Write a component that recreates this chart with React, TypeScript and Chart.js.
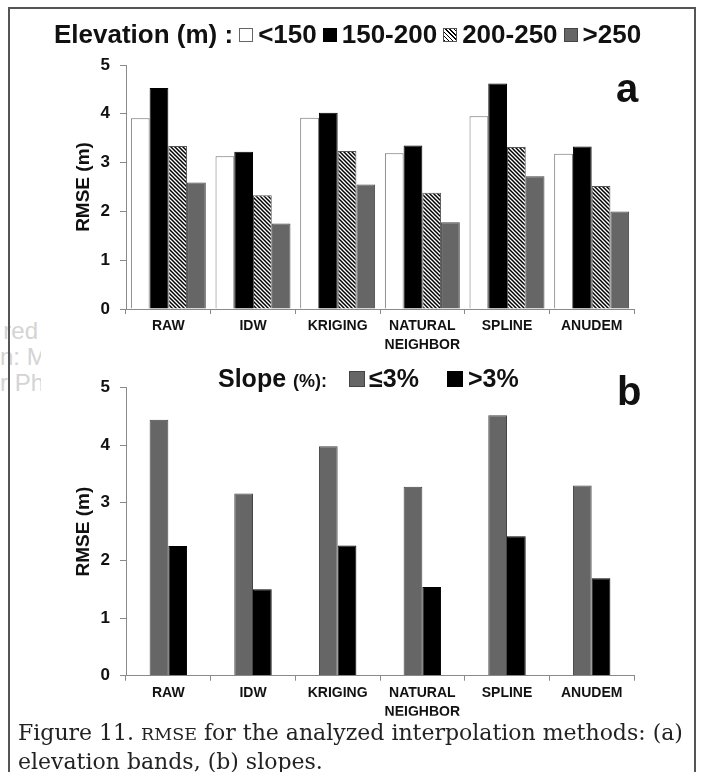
import React, { useEffect, useRef } from "react";
import { Chart, registerables } from "chart.js";

Chart.register(...registerables);

// ---------- data ----------
const methods: string[][] = [["RAW"], ["IDW"], ["KRIGING"], ["NATURAL", "NEIGHBOR"], ["SPLINE"], ["ANUDEM"]];
const elevationBands = ["<150", "150-200", "200-250", ">250"];
const elevLt150 = [3.91, 3.13, 3.92, 3.19, 3.95, 3.18];
const elev150to200 = [4.53, 3.22, 4.02, 3.35, 4.62, 3.33];
const elev200to250 = [3.34, 2.33, 3.24, 2.38, 3.32, 2.52];
const elevGt250 = [2.59, 1.75, 2.55, 1.78, 2.72, 2.0];
const slopeBands = ["≤3%", ">3%"];
const slopeLe3 = [4.44, 3.16, 3.98, 3.28, 4.52, 3.3];
const slopeGt3 = [2.25, 1.5, 2.26, 1.54, 2.42, 1.69];
const yMin = 0;
const yMax = 5;
const yStep = 1;
const yTitle = "RMSE (m)";

const SANS = "'Liberation Sans', Arial, Helvetica, sans-serif";
const AXIS = "#8a8a8a";
const GRAY = "#666666";

function makeHatch(): CanvasPattern | string {
  const c = document.createElement("canvas");
  c.width = 4;
  c.height = 4;
  const ctx = c.getContext("2d");
  if (!ctx) return "#999";
  ctx.fillStyle = "#fff";
  ctx.fillRect(0, 0, 4, 4);
  ctx.strokeStyle = "#000";
  ctx.lineWidth = 1.5;
  ctx.beginPath();
  ctx.moveTo(-1, -1);
  ctx.lineTo(5, 5);
  ctx.moveTo(-1, 3);
  ctx.lineTo(1, 5);
  ctx.moveTo(3, -1);
  ctx.lineTo(5, 1);
  ctx.stroke();
  return ctx.createPattern(c, "repeat") || "#999";
}

function axesOptions(catPct: number) {
  return {
    x: {
      offset: true,
      categoryPercentage: catPct,
      ticks: {
        color: "#111",
        font: { family: SANS, size: 14, weight: "bold" as const, lineHeight: 1.35 },
        padding: 3,
        autoSkip: false,
        maxRotation: 0,
      },
      grid: { offset: true, drawOnChartArea: false, drawTicks: true, tickLength: 5, color: AXIS },
      border: { display: true, color: AXIS, width: 1 },
      afterFit: (s: any) => {
        s.height = 40;
      },
    },
    y: {
      min: yMin,
      max: yMax,
      ticks: {
        stepSize: yStep,
        color: "#111",
        font: { family: SANS, size: 17, weight: "bold" as const },
        padding: 10,
      },
      grid: { drawOnChartArea: false, drawTicks: true, tickLength: 6, color: AXIS },
      border: { display: true, color: AXIS, width: 1 },
      title: {
        display: true,
        text: yTitle,
        color: "#111",
        font: { family: SANS, size: 19, weight: "bold" as const, lineHeight: 1.2 },
        padding: { top: 12, bottom: 0 },
      },
      afterFit: (s: any) => {
        s.width = 66;
      },
    },
  };
}

function ElevationChart() {
  const ref = useRef<HTMLCanvasElement | null>(null);
  useEffect(() => {
    if (!ref.current) return;
    const hatch = makeHatch();
    const chart = new Chart(ref.current, {
      type: "bar",
      data: {
        labels: methods,
        datasets: [
          { label: elevationBands[0], data: elevLt150, backgroundColor: "#ffffff", borderColor: "#707070", borderWidth: 1, categoryPercentage: 0.885, barPercentage: 1 },
          { label: elevationBands[1], data: elev150to200, backgroundColor: "#000000", borderColor: "#000000", borderWidth: 1, categoryPercentage: 0.885, barPercentage: 1 },
          { label: elevationBands[2], data: elev200to250, backgroundColor: hatch as any, borderColor: "#555555", borderWidth: 1, categoryPercentage: 0.885, barPercentage: 1 },
          { label: elevationBands[3], data: elevGt250, backgroundColor: GRAY, borderColor: "#444444", borderWidth: 1, categoryPercentage: 0.885, barPercentage: 1 },
        ],
      },
      options: {
        responsive: false,
        animation: false,
        devicePixelRatio: 1,
        layout: { padding: { left: 60, top: 65, right: 68, bottom: 11 } },
        plugins: { legend: { display: false }, tooltip: { enabled: false }, title: { display: false } },
        scales: axesOptions(0.885) as any,
      },
    });
    return () => chart.destroy();
  }, []);
  return <canvas ref={ref} width={702} height={360} style={{ position: "absolute", left: 0, top: 0 }} />;
}

function SlopeChart() {
  const ref = useRef<HTMLCanvasElement | null>(null);
  useEffect(() => {
    if (!ref.current) return;
    const chart = new Chart(ref.current, {
      type: "bar",
      data: {
        labels: methods,
        datasets: [
          { label: slopeBands[0], data: slopeLe3, backgroundColor: GRAY, borderColor: "#444444", borderWidth: 1, categoryPercentage: 0.442, barPercentage: 1 },
          { label: slopeBands[1], data: slopeGt3, backgroundColor: "#000000", borderColor: "#000000", borderWidth: 1, categoryPercentage: 0.442, barPercentage: 1 },
        ],
      },
      options: {
        responsive: false,
        animation: false,
        devicePixelRatio: 1,
        layout: { padding: { left: 60, top: 27.5, right: 68, bottom: 34.3 } },
        plugins: { legend: { display: false }, tooltip: { enabled: false }, title: { display: false } },
        scales: axesOptions(0.442) as any,
      },
    });
    return () => chart.destroy();
  }, []);
  return <canvas ref={ref} width={702} height={390} style={{ position: "absolute", left: 0, top: 360 }} />;
}

const box = (bg: string, border: string, size = 14): React.CSSProperties => ({
  display: "inline-block",
  width: size,
  height: size,
  boxSizing: "border-box",
  background: bg,
  border: `1px solid ${border}`,
  verticalAlign: "middle",
  margin: "0 5px 3px 6px",
});

const hatchCss = "repeating-linear-gradient(45deg, #000 0px, #000 1px, #fff 1px, #fff 3px)";

export default function App() {
  return (
    <div
      style={{
        position: "absolute",
        left: 0,
        top: 0,
        width: 702,
        height: 772,
        overflow: "hidden",
        background: "#fff",
        fontFamily: SANS,
      }}
    >
      {/* stray text from neighbouring page */}
      <div style={{ position: "absolute", left: 0, top: 318, width: 41, overflow: "hidden", color: "#d4d4d4", fontSize: 24, lineHeight: "26px", fontFamily: SANS }}>
        <div style={{ textAlign: "right", paddingRight: 3, whiteSpace: "nowrap" }}>red</div>
        <div style={{ textAlign: "right", paddingRight: 1, whiteSpace: "nowrap" }}>n: M</div>
        <div style={{ textAlign: "right", paddingRight: 0, whiteSpace: "nowrap" }}>r Ph</div>
      </div>

      {/* frame */}
      <div
        style={{
          position: "absolute",
          left: 8,
          top: 7,
          width: 688,
          height: 820,
          boxSizing: "border-box",
          borderLeft: "2px solid #555",
          borderTop: "2px solid #555",
          borderRight: "2px solid #555",
        }}
      />

      <ElevationChart />
      <SlopeChart />

      {/* legend a */}
      <div style={{ position: "absolute", left: 54, top: 19, whiteSpace: "nowrap", fontSize: 26, fontWeight: "bold", color: "#111", lineHeight: "30px" }}>
        Elevation (m) :<span style={box("#fff", "#666")} />
        {elevationBands[0]}
        <span style={box("#000", "#000")} />
        {elevationBands[1]}
        <span style={box(hatchCss, "#555")} />
        {elevationBands[2]}
        <span style={box(GRAY, "#444")} />
        {elevationBands[3]}
      </div>
      <div style={{ position: "absolute", left: 616, top: 68, fontSize: 40, fontWeight: "bold", lineHeight: "40px", color: "#111" }}>a</div>

      {/* legend b */}
      <div style={{ position: "absolute", left: 218, top: 364, whiteSpace: "nowrap", fontSize: 25, fontWeight: "bold", color: "#111", lineHeight: "28px" }}>
        Slope <span style={{ fontSize: 18 }}>(%):</span>
        <span style={{ ...box(GRAY, "#444", 16), margin: "0 4px 3px 22px" }} />
        {slopeBands[0]}
        <span style={{ ...box("#000", "#000", 16), margin: "0 5px 3px 28px" }} />
        {slopeBands[1]}
      </div>
      <div style={{ position: "absolute", left: 617, top: 371, fontSize: 40, fontWeight: "bold", lineHeight: "40px", color: "#111" }}>b</div>

      {/* caption */}
      <div
        style={{
          position: "absolute",
          left: 18,
          top: 719,
          width: 680,
          fontFamily: "'DejaVu Serif', 'Liberation Serif', serif",
          fontSize: 22,
          lineHeight: "27px",
          color: "#222",
          whiteSpace: "nowrap",
        }}
      >
        <div>
          Figure 11. <span style={{ fontSize: 17.5 }}>RMSE</span> for the analyzed interpolation methods: (a)
        </div>
        <div>elevation bands, (b) slopes.</div>
      </div>
    </div>
  );
}
